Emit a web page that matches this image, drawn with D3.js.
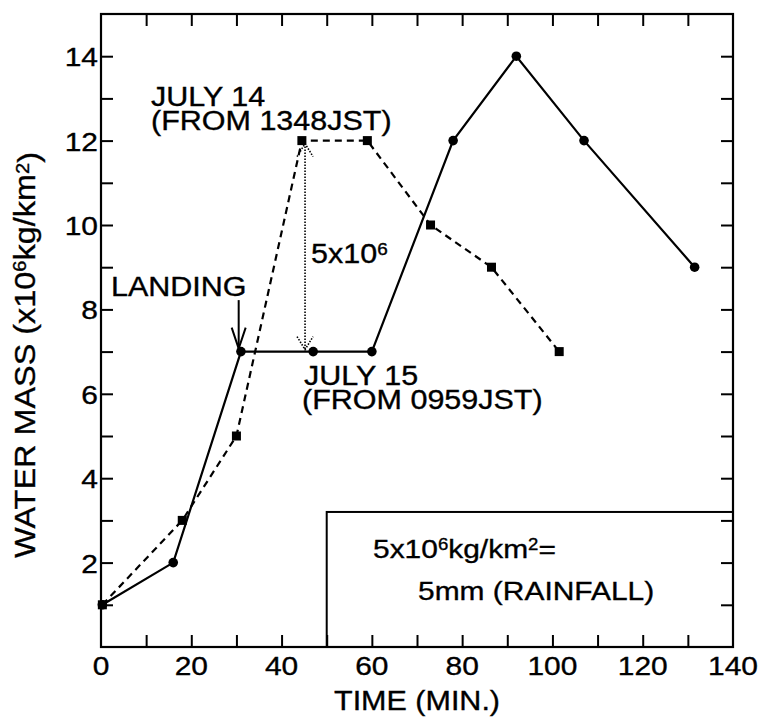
<!DOCTYPE html>
<html>
<head>
<meta charset="utf-8">
<script src="https://cdn.jsdelivr.net/npm/d3@7"></script>
<style>
  html, body { margin: 0; padding: 0; background: #fff; }
  svg { display: block; }
  text { font-family: "Liberation Sans", Arial, Helvetica, sans-serif; fill: #000; stroke: #000; stroke-width: 0.35px; }
</style>
</head>
<body>
<script>
// ---- data ----
const july15Time = [0.3, 16, 31, 47, 60, 78, 92, 107, 131.5];
const july15Mass = [1, 2, 7, 7, 7, 12, 14, 12, 9];
const july14Time = [0.3, 18, 30, 44.5, 59, 73, 86.5, 101.5];
const july14Mass = [1, 3, 5, 12, 12, 10, 9, 7];
const xTickLabels = [0, 20, 40, 60, 80, 100, 120, 140];
const yTickLabels = [2, 4, 6, 8, 10, 12, 14];
const xMinorTicks = d3.range(10, 140, 10);
const yMinorTicks = d3.range(1, 15, 1);
const xDomain = [0, 140];
const yDomain = [0, 15];

(function () {
const W = 761, H = 721;
const svg = d3.select("body").append("svg").attr("width", W).attr("height", H);

const pL = 101, pR = 733, pT = 14, pB = 647;
const x = d3.scaleLinear().domain(xDomain).range([pL, pR]);
const y = d3.scaleLinear().domain(yDomain).range([pB, pT]);

const SX = 1.13; // horizontal stretch of the scanned lettering

// ---- axes (ticks inward) ----
const tick = 12;
svg.append("g").attr("transform", `translate(0,${pB})`)
  .call(d3.axisBottom(x).tickValues(xMinorTicks).tickSize(-tick).tickFormat(""));
svg.append("g").attr("transform", `translate(0,${pT})`)
  .call(d3.axisTop(x).tickValues(xMinorTicks).tickSize(-tick).tickFormat(""));
svg.append("g").attr("transform", `translate(${pL},0)`)
  .call(d3.axisLeft(y).tickValues(yMinorTicks).tickSize(-tick).tickFormat(""));
svg.append("g").attr("transform", `translate(${pR},0)`)
  .call(d3.axisRight(y).tickValues(yMinorTicks).tickSize(-tick).tickFormat(""));
svg.selectAll(".domain").remove();
svg.selectAll(".tick line").attr("stroke", "#000").attr("stroke-width", 2);

// frame
svg.append("rect").attr("x", pL).attr("y", pT)
  .attr("width", pR - pL).attr("height", pB - pT)
  .attr("fill", "none").attr("stroke", "#000").attr("stroke-width", 2.2);

// legend box
svg.append("rect").attr("x", x(50)).attr("y", y(3.2))
  .attr("width", x(140) - x(50)).attr("height", y(0) - y(3.2))
  .attr("fill", "none").attr("stroke", "#000").attr("stroke-width", 2);

// ---- text helper ----
function addParts(t, parts) {
  let raised = false;
  parts.forEach(p => {
    const sup = Array.isArray(p);
    const s = sup ? p[0] : p;
    const ts = t.append("tspan").text(s);
    if (sup && !raised) { ts.attr("dy", "-0.5em").attr("font-size", "0.62em"); raised = true; }
    else if (sup) { ts.attr("font-size", "0.62em"); }
    else if (raised) { ts.attr("dy", "0.31em"); raised = false; }
  });
}
function txt(px, py, parts, size, anchor) {
  const t = svg.append("text")
    .attr("transform", `translate(${px},${py}) scale(${SX},1)`)
    .attr("font-size", size)
    .attr("text-anchor", anchor || "start");
  addParts(t, parts);
  return t;
}
function txt2(px, py, line1, line2, dx2, gap, size) {
  const t = svg.append("text")
    .attr("transform", `translate(${px},${py}) scale(${SX},1)`)
    .attr("font-size", size);
  t.append("tspan").attr("x", 0).text(line1);
  t.append("tspan").attr("x", dx2 / SX).attr("dy", gap).text(line2);
  return t;
}

// tick labels
xTickLabels.forEach(v => txt(x(v), pB + 28, [String(v)], 26.5, "middle"));
yTickLabels.forEach(v => txt(pL - 3, y(v) + 10, [String(v)], 26.5, "end"));

// axis titles
txt(x(70), 710, ["TIME (MIN.)"], 27, "middle");
const yl = svg.append("text")
  .attr("transform", `translate(35,355) rotate(-90)`)
  .attr("font-size", 30).attr("text-anchor", "middle")
  .attr("textLength", 406).attr("lengthAdjust", "spacingAndGlyphs");
yl.append("tspan").text("WATER MASS (x10");
yl.append("tspan").text("6").attr("dy", "-0.5em").attr("font-size", "0.62em");
yl.append("tspan").text("kg/km").attr("dy", "0.31em");
yl.append("tspan").text("2").attr("dy", "-0.31em").attr("font-size", "0.62em");
yl.append("tspan").text(")").attr("dy", "0.31em");

// ---- series ----
const lineGen = d3.line().x(d => x(d[0])).y(d => y(d[1]));
const s15 = july15Time.map((t, i) => [t, july15Mass[i]]);
const s14 = july14Time.map((t, i) => [t, july14Mass[i]]);

svg.append("path").attr("d", lineGen(s14)).attr("fill", "none")
  .attr("stroke", "#000").attr("stroke-width", 2.2).attr("stroke-dasharray", "7,5");
svg.append("path").attr("d", lineGen(s15)).attr("fill", "none")
  .attr("stroke", "#000").attr("stroke-width", 2.2);

svg.selectAll("circle.m15").data(s15).enter().append("circle")
  .attr("cx", d => x(d[0])).attr("cy", d => y(d[1])).attr("r", 4.8).attr("fill", "#000");
const sq = 9;
svg.selectAll("rect.m14").data(s14).enter().append("rect")
  .attr("x", d => x(d[0]) - sq / 2).attr("y", d => y(d[1]) - sq / 2)
  .attr("width", sq).attr("height", sq).attr("fill", "#000");

// ---- annotations ----
txt2(151, 106, "JULY 14", "(FROM 1348JST)", 0, 23.5, 27);
txt2(304, 385, "JULY 15", "(FROM 0959JST)", -2, 24, 27);
txt(111, 296, ["LANDING"], 27);
txt(311, 263, ["5x10", ["6"]], 27);
txt(373, 558, ["5x10", ["6"], "kg/km", ["2"], "="], 26.5);
txt(418, 600, ["5mm (RAINFALL)"], 26.5);

// landing arrow
const ax = x(30.5), aTop = y(8.22), aTip = y(7.07);
svg.append("line").attr("x1", ax).attr("x2", ax).attr("y1", aTop).attr("y2", aTip)
  .attr("stroke", "#000").attr("stroke-width", 2);
svg.append("path").attr("d", `M${ax - 7},${aTip - 21} L${ax},${aTip} L${ax + 7},${aTip - 21}`)
  .attr("fill", "none").attr("stroke", "#000").attr("stroke-width", 2);

// dotted double arrow (5x10^6 difference)
const dx = x(45.2), dTop = y(12) + 3, dBot = y(7) - 2;
const dot = { stroke: "#000", "stroke-width": 1.6, "stroke-dasharray": "1.5,1.5", fill: "none" };
function styl(sel) { Object.entries(dot).forEach(([k, v]) => sel.attr(k, v)); return sel; }
styl(svg.append("line").attr("x1", dx).attr("x2", dx).attr("y1", dTop).attr("y2", dBot));
styl(svg.append("path").attr("d", `M${dx - 8},${dTop + 13} L${dx},${dTop} L${dx + 8},${dTop + 13}`));
styl(svg.append("path").attr("d", `M${dx - 8},${dBot - 13} L${dx},${dBot} L${dx + 8},${dBot - 13}`));
})();
</script>
</body>
</html>
